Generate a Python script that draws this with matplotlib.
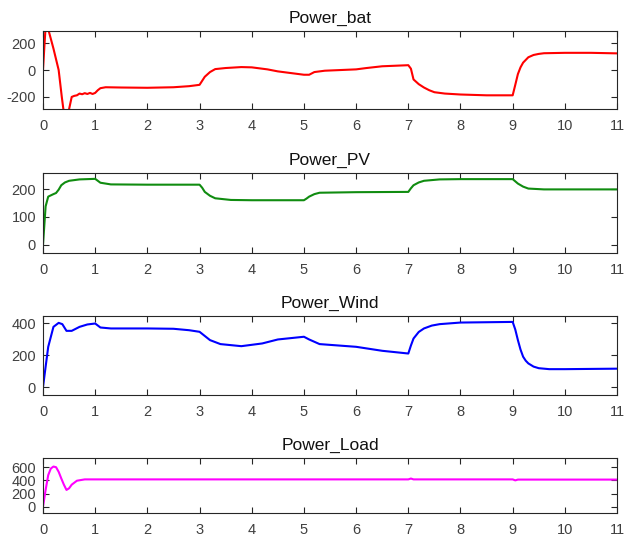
import matplotlib
matplotlib.use("Agg")
import matplotlib.pyplot as plt

plt.rcParams['font.family'] = ['Liberation Sans', 'DejaVu Sans']
plt.rcParams['axes.unicode_minus'] = False

# time axis and power traces (W) for each source
t_bat = [0, 0.03, 0.045, 0.07, 0.11, 0.2, 0.3, 0.36, 0.39, 0.44, 0.5, 0.55, 0.6,
         0.65, 0.7, 0.75, 0.8, 0.85, 0.9, 0.95, 1.0, 1.05, 1.1, 1.2, 1.5, 2.0,
         2.5, 2.8, 3.0, 3.05, 3.1, 3.2, 3.3, 3.5, 3.8, 4.0, 4.3, 4.5, 4.7, 5.0,
         5.1, 5.2, 5.4, 6.0, 6.2, 6.5, 7.0, 7.05, 7.1, 7.2, 7.3, 7.4, 7.5, 7.7,
         8.0, 8.5, 9.0, 9.05, 9.1, 9.15, 9.2, 9.3, 9.4, 9.5, 9.6, 10.0, 10.5, 11.0]
p_bat = [0, 200, 290, 360, 290, 160, 0, -200, -290, -380, -290, -200, -192,
         -188, -175, -180, -172, -178, -170, -178, -170, -150, -135, -128, -130, -132,
         -128, -120, -110, -80, -50, -15, 7, 15, 22, 20, 5, -10, -20, -35,
         -35, -15, -5, 5, 15, 28, 36, 10, -70, -105, -130, -150, -165, -175,
         -182, -188, -188, -110, -30, 20, 55, 95, 112, 120, 125, 128, 128, 124]

t_pv = [0, 0.05, 0.1, 0.2, 0.25, 0.3, 0.35, 0.42, 0.5, 0.7, 1.0, 1.05, 1.1, 1.3,
        2.0, 3.0, 3.05, 3.1, 3.2, 3.3, 3.6, 4.0, 5.0, 5.05, 5.1, 5.2, 5.3, 6.0,
        7.0, 7.05, 7.1, 7.2, 7.3, 7.6, 8.0, 9.0, 9.05, 9.1, 9.2, 9.3, 9.6, 10.0, 11.0]
p_pv = [0, 138, 173, 182, 186, 198, 214, 224, 230, 235, 237, 230, 223, 217,
        216, 216, 205, 190, 176, 167, 161, 160, 160, 166, 173, 182, 187, 189,
        190, 203, 214, 224, 230, 235, 236, 236, 228, 220, 209, 202, 199, 199, 199]

t_wind = [0, 0.05, 0.1, 0.2, 0.3, 0.37, 0.45, 0.55, 0.7, 0.85, 1.0, 1.1, 1.3,
          2.0, 2.5, 2.8, 3.0, 3.1, 3.2, 3.4, 3.8, 4.2, 4.5, 5.0, 5.1, 5.3, 6.0,
          6.5, 7.0, 7.05, 7.1, 7.2, 7.3, 7.45, 7.6, 8.0, 9.0, 9.05, 9.1, 9.15,
          9.2, 9.25, 9.3, 9.4, 9.5, 9.7, 10.0, 11.0]
p_wind = [0, 127, 252, 377, 402, 394, 352, 352, 377, 392, 398, 373, 367,
          367, 365, 356, 346, 320, 294, 269, 256, 273, 298, 315, 298, 269, 252,
          227, 210, 260, 304, 345, 367, 385, 394, 404, 408, 360, 294, 235,
          190, 165, 148, 128, 118, 112, 112, 115]

t_load = [0, 0.05, 0.1, 0.15, 0.2, 0.25, 0.3, 0.35, 0.4, 0.45, 0.5, 0.55, 0.65,
          0.8, 1.0, 3.0, 5.0, 7.0, 7.05, 7.1, 9.0, 9.05, 9.1, 11.0]
p_load = [0, 255, 480, 580, 610, 600, 530, 430, 335, 255, 280, 335, 395,
          415, 415, 415, 415, 415, 428, 415, 415, 400, 412, 412]

titles = ['Power_bat', 'Power_PV', 'Power_Wind', 'Power_Load']
colors = ['#ff0000', '#108c10', '#0000ff', '#ff00ff']
series = [(t_bat, p_bat), (t_pv, p_pv), (t_wind, p_wind), (t_load, p_load)]
ylims = [(-290, 290), (-30, 258), (-50, 445), (-95, 740)]
yticks = [[-200, 0, 200], [0, 100, 200], [0, 200, 400], [0, 200, 400, 600]]

# axes boxes in figure fractions: left, bottom, width, height
boxes = [
    [0.0687, 0.7981, 0.917, 0.1444],
    [0.0687, 0.5315, 0.917, 0.1481],
    [0.0687, 0.2685, 0.917, 0.1463],
    [0.0687, 0.0500, 0.917, 0.1019],
]

fig = plt.figure(figsize=(6.26, 5.40), dpi=100)
for i in range(4):
    ax = fig.add_axes(boxes[i])
    t, p = series[i]
    ax.plot(t, p, color=colors[i], lw=1.5)
    ax.set_xlim(0, 11)
    ax.set_ylim(*ylims[i])
    ax.set_xticks(range(0, 12))
    ax.set_yticks(yticks[i])
    ax.set_title(titles[i], fontsize=12.5, pad=6, color='#111111')
    ax.tick_params(direction='in', length=4, width=0.8, top=True, right=True,
                   labelsize=10.5, labelcolor='#404040', color='#262626')
    ax.tick_params(axis='x', pad=7)
    ax.tick_params(axis='y', pad=5)
    for s in ax.spines.values():
        s.set_color('#262626')
        s.set_linewidth(0.8)

fig.savefig('out.png', dpi=100)
